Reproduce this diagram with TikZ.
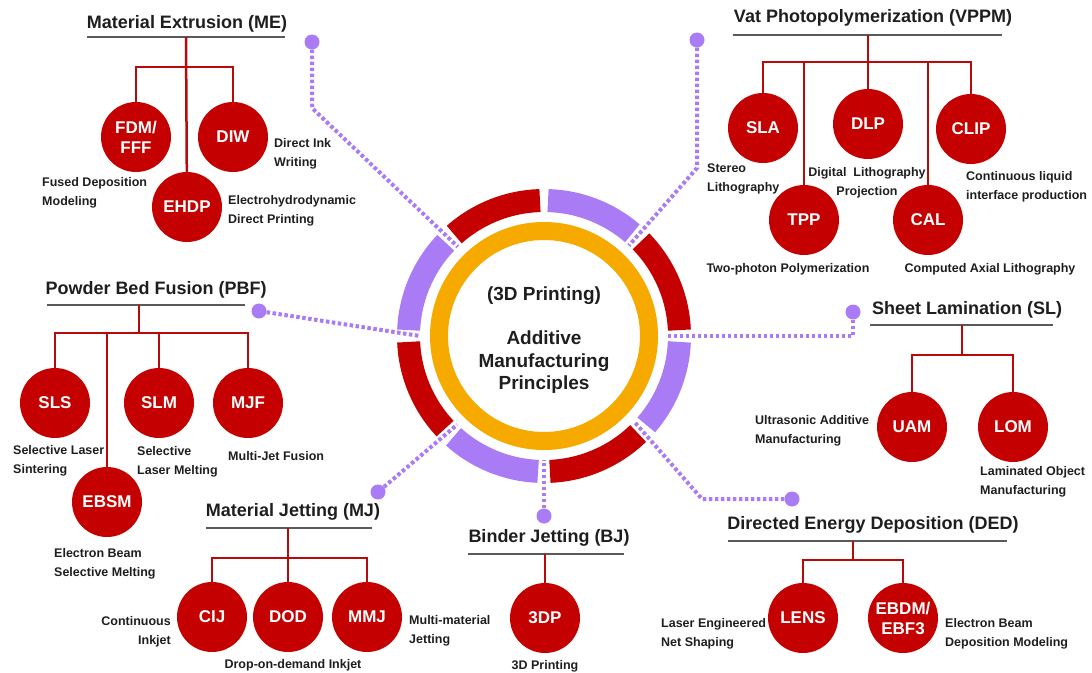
\documentclass[tikz,border=0pt]{standalone}
\usepackage{fontspec}
\setmainfont{Liberation Sans}
\definecolor{amred}{HTML}{C40000}
\definecolor{lnred}{HTML}{B80A0A}
\definecolor{ampurple}{HTML}{A97BF5}
\definecolor{amorange}{HTML}{F6AA00}
\definecolor{txt}{HTML}{1E1E1E}
\definecolor{ulgray}{HTML}{5A5A5A}
\begin{document}
\begin{tikzpicture}[x=1pt,y=-1pt,
 circ/.style={circle,fill=amred,minimum size=70pt,inner sep=0pt,text=white,font=\bfseries\fontsize{17}{20}\selectfont,align=center},
 ttl/.style={font=\bfseries\fontsize{18}{20}\selectfont,text=txt,inner sep=0pt},
 lbl/.style={font=\bfseries\fontsize{12.5}{18.5}\selectfont,text=txt,inner sep=0pt,align=left},
 tree/.style={draw=lnred,line width=2.5pt},
 uline/.style={draw=ulgray,line width=1.4pt},
 dotl/.style={draw=ampurple,line width=4pt,dash pattern=on 3.5pt off 2.5pt},
 pdot/.style={circle,fill=ampurple,minimum size=15pt,inner sep=0pt},
 ringseg/.style={line width=23pt},
]
\useasboundingbox (0,0) rectangle (1092,672);

% ---------------- central ring ----------------
\begin{scope}[shift={(544,336)},y=1pt]
 \draw[amorange,line width=18pt] (0,0) circle[radius=105];
 \draw[ringseg,amred]    (2.5:135.5)   arc[start angle=2.5,end angle=44.3,radius=135.5];
 \draw[ringseg,ampurple] (49.3:135.5)  arc[start angle=49.3,end angle=88.3,radius=135.5];
 \draw[ringseg,amred]    (91.7:135.5)  arc[start angle=91.7,end angle=131.5,radius=135.5];
 \draw[ringseg,ampurple] (136.5:135.5) arc[start angle=136.5,end angle=177.5,radius=135.5];
 \draw[ringseg,amred]    (182.5:135.5) arc[start angle=182.5,end angle=223.1,radius=135.5];
 \draw[ringseg,ampurple] (228.1:135.5) arc[start angle=228.1,end angle=267.5,radius=135.5];
 \draw[ringseg,amred]    (272.5:135.5) arc[start angle=272.5,end angle=314,radius=135.5];
 \draw[ringseg,ampurple] (319:135.5)   arc[start angle=319,end angle=357.5,radius=135.5];
 \coordinate (gME)  at (134:124);
 \coordinate (gVP)  at (46.8:124);
 \coordinate (gSL)  at (0:124);
 \coordinate (gDED) at (-43.5:124);
 \coordinate (gBJ)  at (270:124);
 \coordinate (gMJ)  at (225.6:124);
 \coordinate (gPBF) at (180:124);
\end{scope}
\node[font=\bfseries\fontsize{19}{22.5}\selectfont,text=txt,align=center] (center) at (544,340)
 {(3D Printing)\\[22pt]Additive\\Manufacturing\\Principles};

% ---------------- purple dots and dotted connectors ----------------
\node[pdot] (meDot)  at (312,42) {};
\node[pdot] (vpDot)  at (697,40) {};
\node[pdot] (pbDot)  at (259,311) {};
\node[pdot] (slDot)  at (853,312) {};
\node[pdot] (dedDot) at (792,499) {};
\node[pdot] (bjDot)  at (544,516) {};
\node[pdot] (mjDot)  at (378,492) {};
\coordinate (meBend) at (312,108);
\coordinate (vpBend) at (697,168);
\coordinate (dedBend) at (702,499);
\draw[dotl] (meDot) -- (meBend) -- (gME);
\draw[dotl] (vpDot) -- (vpBend) -- (gVP);
\draw[dotl] (pbDot) -- (gPBF);
\draw[dotl] (slDot) -- (slDot |- gSL) -- (gSL);
\draw[dotl] (dedDot) -- (dedBend) -- (gDED);
\draw[dotl] (bjDot) -- (gBJ);
\draw[dotl] (mjDot) -- (gMJ);

% ---------------- Material Extrusion ----------------
\node[ttl] (me) at (187,24) {Material Extrusion (ME)};
\draw[uline] (87,37) -- (285,37);
\coordinate (meU) at (186,37);
\coordinate (meJ) at (186,67);
\node[circ] (fdm) at (136,137) {FDM/\\FFF};
\node[circ] (diw) at (233,137) {DIW};
\node[circ] (ehdp) at (187,207) {EHDP};
\draw[tree] (meU) -- (ehdp);
\draw[tree] (fdm) |- (meJ) -| (diw);
\node[lbl,anchor=west] (lfdm) at (42,193) {Fused Deposition\\Modeling};
\node[lbl,anchor=west] (ldiw) at (274,154) {Direct Ink\\Writing};
\node[lbl,anchor=west] (lehdp) at (228,211) {Electrohydrodynamic\\Direct Printing};

% ---------------- Vat Photopolymerization ----------------
\node[ttl] (vp) at (873,18) {Vat Photopolymerization (VPPM)};
\draw[uline] (733,35) -- (1002,35);
\coordinate (vpU) at (868,35);
\coordinate (vpJ) at (868,62);
\node[circ] (sla) at (763,128) {SLA};
\node[circ] (dlp) at (868,124) {DLP};
\node[circ] (clip) at (971,129) {CLIP};
\node[circ] (tpp) at (804,220) {TPP};
\node[circ] (cal) at (928,220) {CAL};
\draw[tree] (vpU) -- (vpJ);
\draw[tree] (sla) |- (vpJ) -| (clip);
\draw[tree] (dlp) -- (dlp |- vpJ);
\draw[tree] (tpp) -- (tpp |- vpJ);
\draw[tree] (cal) -- (cal |- vpJ);
\node[lbl,anchor=west] (lsla) at (707,179) {Stereo\\Lithography};
\node[lbl,align=center] (ldlp) at (867,183) {Digital\ \ Lithography\\Projection};
\node[lbl,anchor=west] (lclip) at (966,187) {Continuous liquid\\interface production};
\node[lbl] (ltpp) at (788,269) {Two-photon Polymerization};
\node[lbl] (lcal) at (990,269) {Computed Axial Lithography};

% ---------------- Powder Bed Fusion ----------------
\node[ttl] (pb) at (156,290) {Powder Bed Fusion (PBF)};
\draw[uline] (47,305) -- (245,305);
\coordinate (pbU) at (139,305);
\coordinate (pbJ) at (139,333);
\node[circ] (sls) at (55,403) {SLS};
\node[circ] (slm) at (159,403) {SLM};
\node[circ] (mjf) at (248,403) {MJF};
\node[circ] (ebsm) at (107,502) {EBSM};
\draw[tree] (pbU) -- (pbJ);
\draw[tree] (sls) |- (pbJ) -| (mjf);
\draw[tree] (slm) -- (slm |- pbJ);
\draw[tree] (ebsm) -- (ebsm |- pbJ);
\node[lbl,anchor=west] (lsls) at (13,461) {Selective Laser\\Sintering};
\node[lbl,anchor=west] (lslm) at (137,462) {Selective\\Laser Melting};
\node[lbl,anchor=west] (lmjf) at (228,456) {Multi-Jet Fusion};
\node[lbl,anchor=west] (lebsm) at (54,564) {Electron Beam\\Selective Melting};

% ---------------- Sheet Lamination ----------------
\node[ttl] (sl) at (967,310) {Sheet Lamination (SL)};
\draw[uline] (870,325) -- (1053,325);
\coordinate (slU) at (962,325);
\coordinate (slJ) at (962,355);
\node[circ] (uam) at (912,427) {UAM};
\node[circ] (lom) at (1013,427) {LOM};
\draw[tree] (slU) -- (slJ);
\draw[tree] (uam) |- (slJ) -| (lom);
\node[lbl,anchor=west] (luam) at (755,431) {Ultrasonic Additive\\Manufacturing};
\node[lbl,anchor=west] (llom) at (980,482) {Laminated Object\\Manufacturing};

% ---------------- Material Jetting ----------------
\node[ttl] (mj) at (293,512) {Material Jetting (MJ)};
\draw[uline] (206,528) -- (372,528);
\coordinate (mjU) at (288,528);
\coordinate (mjJ) at (288,558);
\node[circ] (cij) at (212,617) {CIJ};
\node[circ] (dod) at (288,617) {DOD};
\node[circ] (mmj) at (367,617) {MMJ};
\draw[tree] (mjU) -- (dod);
\draw[tree] (cij) |- (mjJ) -| (mmj);
\node[lbl,anchor=east,align=right] (lcij) at (171,632) {Continuous\\Inkjet};
\node[lbl] (ldod) at (293,665) {Drop-on-demand Inkjet};
\node[lbl,anchor=west] (lmmj) at (409,631) {Multi-material\\Jetting};

% ---------------- Binder Jetting ----------------
\node[ttl] (bj) at (549,538) {Binder Jetting (BJ)};
\draw[uline] (468,554) -- (624,554);
\coordinate (bjU) at (545,554);
\node[circ] (tdp) at (545,618) {3DP};
\draw[tree] (bjU) -- (tdp);
\node[lbl] (ltdp) at (545,666) {3D Printing};

% ---------------- Directed Energy Deposition ----------------
\node[ttl] (ded) at (873,525) {Directed Energy Deposition (DED)};
\draw[uline] (728,541) -- (1007,541);
\coordinate (dedU) at (853,541);
\coordinate (dedJ) at (853,560);
\node[circ] (lens) at (803,618) {LENS};
\node[circ] (ebdm) at (903,618) {EBDM/\\EBF3};
\draw[tree] (dedU) -- (dedJ);
\draw[tree] (lens) |- (dedJ) -| (ebdm);
\node[lbl,anchor=west] (llens) at (661,634) {Laser Engineered\\Net Shaping};
\node[lbl,anchor=west] (lebdm) at (945,634) {Electron Beam\\Deposition Modeling};
\end{tikzpicture}
\end{document}
